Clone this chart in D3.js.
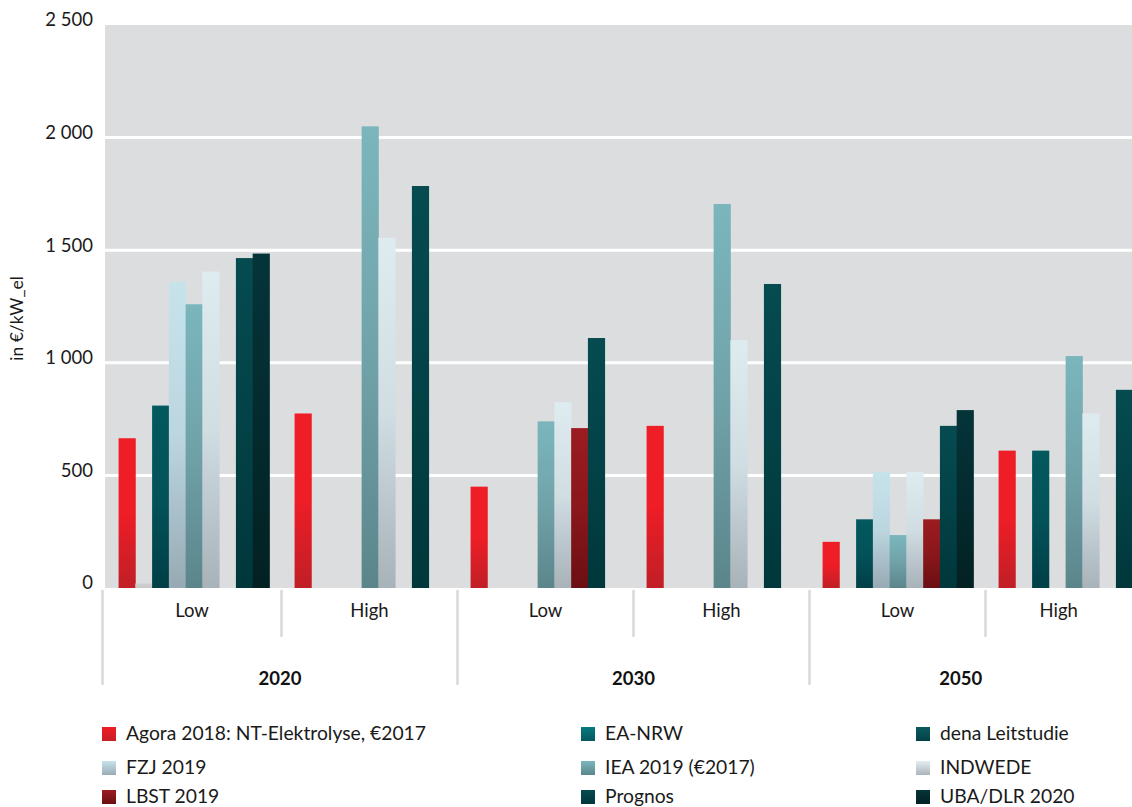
<!DOCTYPE html>
<html>
<head>
<meta charset="utf-8">
<script src="https://cdn.jsdelivr.net/npm/d3@7"></script>
<style>
  html, body { margin: 0; padding: 0; background: #ffffff; overflow: hidden; }
  svg { display: block; font-family: Lato, "Open Sans", sans-serif; }
</style>
</head>
<body>
<svg id="chart" width="1132" height="807"></svg>
<script>
// ---- data ----
const years = ["2020", "2030", "2050"];
const scenarios = ["Low", "High"];
const categories = ["2020 Low", "2020 High", "2030 Low", "2030 High", "2050 Low", "2050 High"];
const seriesNames = ["Agora 2018: NT-Elektrolyse, €2017", "EA-NRW", "dena Leitstudie", "FZJ 2019",
  "IEA 2019 (€2017)", "INDWEDE", "LBST 2019", "Prognos", "UBA/DLR 2020"];
const agora   = [665, 775, 450, 720, 205, 610];
const eaNrw   = [20, null, null, null, null, null];
const dena    = [810, null, null, null, 305, 610];
const fzj     = [1360, null, null, null, 515, null];
const iea     = [1260, 2050, 740, 1705, 235, 1030];
const indwede = [1405, 1555, 825, 1100, 515, 775];
const lbst    = [null, null, 710, null, 305, null];
const prognos = [1465, 1785, 1110, 1350, 720, 880];
const uba     = [1485, null, null, null, 790, null];
const yTicks  = [0, 500, 1000, 1500, 2000, 2500];
const yTickLabels = ["0", "500", "1 000", "1 500", "2 000", "2 500"];
const yTitle = "in €/kW_el";

const seriesValues = [agora, eaNrw, dena, fzj, iea, indwede, lbst, prognos, uba];
// gradient colours (top, middle, bottom)
const seriesColors = [
  ["#ee1d26", "#ee1d26", "#c01f26"],
  ["#d0d0d0", "#cccccc", "#c8c8c8"],
  ["#02595e", "#03525a", "#003f46"],
  ["#c6e3ec", "#bcd6e0", "#97aab4"],
  ["#7bb6bd", "#70a3a9", "#5b858b"],
  ["#deecf1", "#d0dde3", "#a7b2b9"],
  ["#9b1c21", "#8a171b", "#6b0f13"],
  ["#054b50", "#034246", "#00373b"],
  ["#043439", "#032b2f", "#032123"]
];
const legendColors = [
  ["#ee1d26", "#c81f26"], ["#07797f", "#05585e"], ["#0a5a5d", "#034146"],
  ["#c6e3ec", "#9aabb5"], ["#7bb6bd", "#5c868c"], ["#e4eef2", "#aab4bb"],
  ["#9b1c21", "#6b0f13"], ["#064b50", "#00373b"], ["#053439", "#032123"]
];

// ---- layout ----
const W = 1132;
const svg = d3.select("#chart");
const plotLeft = 104, plotTop = 25, plotBottom = 588;
const groupStep = 176;

const x0 = d3.scaleBand().domain(categories)
  .range([plotLeft - 0.5, plotLeft - 0.5 + groupStep * categories.length])
  .paddingInner(0).paddingOuter(0);
const x1 = d3.scaleBand().domain(d3.range(seriesNames.length))
  .range([0, x0.bandwidth()]).paddingInner(0).paddingOuter(0.75).align(0.6);
const y = d3.scaleLinear().domain([0, 2500]).range([plotBottom, plotTop]);

const defs = svg.append("defs");
seriesColors.forEach((c, i) => {
  const g = defs.append("linearGradient").attr("id", "g" + i)
    .attr("x1", 0).attr("y1", 0).attr("x2", 0).attr("y2", 1);
  g.append("stop").attr("offset", "0%").attr("stop-color", c[0]);
  g.append("stop").attr("offset", "50%").attr("stop-color", c[1]);
  g.append("stop").attr("offset", "100%").attr("stop-color", c[2]);
});
legendColors.forEach((c, i) => {
  const g = defs.append("linearGradient").attr("id", "lg" + i)
    .attr("x1", 0).attr("y1", 0).attr("x2", 0).attr("y2", 1);
  g.append("stop").attr("offset", "0%").attr("stop-color", c[0]);
  g.append("stop").attr("offset", "100%").attr("stop-color", c[1]);
});

// plot background
svg.append("rect")
  .attr("x", plotLeft + 1).attr("y", y(2500))
  .attr("width", W - plotLeft).attr("height", y(0) - y(2500))
  .attr("fill", "#dcdddf");

// gridlines
svg.append("g").selectAll("line").data(yTicks.filter(d => d > 0 && d < 2500)).join("line")
  .attr("x1", plotLeft + 1).attr("x2", W)
  .attr("y1", d => y(d)).attr("y2", d => y(d))
  .attr("stroke", "#ffffff").attr("stroke-width", 3);

// y axis
const yAxis = d3.axisLeft(y).tickValues(yTicks)
  .tickFormat((d, i) => yTickLabels[i]).tickSize(0).tickPadding(0);
const yg = svg.append("g").attr("transform", `translate(${plotLeft - 11},-5)`).call(yAxis);
yg.select(".domain").remove();
yg.selectAll("text").attr("font-size", 18.5).attr("fill", "#1a1a1a")
  .attr("font-family", "Lato, sans-serif");

svg.append("text")
  .attr("transform", `translate(23,${(y(0) + y(2500)) / 2 + 12}) rotate(-90)`)
  .attr("text-anchor", "middle").attr("font-size", 17.5).attr("fill", "#1a1a1a")
  .text(yTitle);

// bars
const barData = [];
seriesValues.forEach((vals, si) => {
  vals.forEach((v, ci) => {
    if (v != null) barData.push({ si, ci, v });
  });
});
svg.append("g").selectAll("rect").data(barData).join("rect")
  .attr("x", d => x0(categories[d.ci]) + x1(d.si))
  .attr("width", x1.bandwidth() + 0.4)
  .attr("y", d => y(d.v))
  .attr("height", d => y(0) - y(d.v))
  .attr("fill", d => `url(#g${d.si})`);

// category axis (two-level)
const axisG = svg.append("g");
const divColor = "#d9d9d9";
const lowHighBottom = 637, yearBottom = 685;
const edges = categories.map(c => x0(c) + 2);
edges[0] = x0(categories[0]) - 1;
edges.push(W);
axisG.selectAll("line.div").data(edges.slice(0, categories.length)).join("line")
  .attr("class", "div")
  .attr("x1", d => d).attr("x2", d => d)
  .attr("y1", plotBottom + 2)
  .attr("y2", (d, i) => i % 2 === 0 ? yearBottom : lowHighBottom)
  .attr("stroke", divColor).attr("stroke-width", 2.5);
axisG.selectAll("text.sc").data(categories).join("text")
  .attr("class", "sc")
  .attr("x", (d, i) => (edges[i] + edges[i + 1]) / 2)
  .attr("y", 617)
  .attr("text-anchor", "middle").attr("font-size", 18.5).attr("fill", "#1a1a1a")
  .text((d, i) => scenarios[i % 2]);
axisG.selectAll("text.yr").data(years).join("text")
  .attr("class", "yr")
  .attr("x", (d, i) => (edges[i * 2] + Math.min(edges[i * 2 + 2], W - 20)) / 2)
  .attr("y", 685)
  .attr("text-anchor", "middle").attr("font-size", 18.5).attr("font-weight", "bold")
  .attr("fill", "#111111")
  .text(d => d);

// legend (row-major, 3 columns)
const legendCols = [102, 581, 916];
const legendRows = [727, 761, 790];
const lg = svg.append("g");
seriesNames.forEach((name, i) => {
  const cx = legendCols[i % 3], ry = legendRows[Math.floor(i / 3)];
  lg.append("rect").attr("x", cx).attr("y", ry).attr("width", 14).attr("height", 14)
    .attr("fill", `url(#lg${i})`);
  lg.append("text").attr("x", cx + 24).attr("y", ry + 13)
    .attr("font-size", 19.3).attr("fill", "#1a1a1a").text(name);
});
</script>
</body>
</html>
